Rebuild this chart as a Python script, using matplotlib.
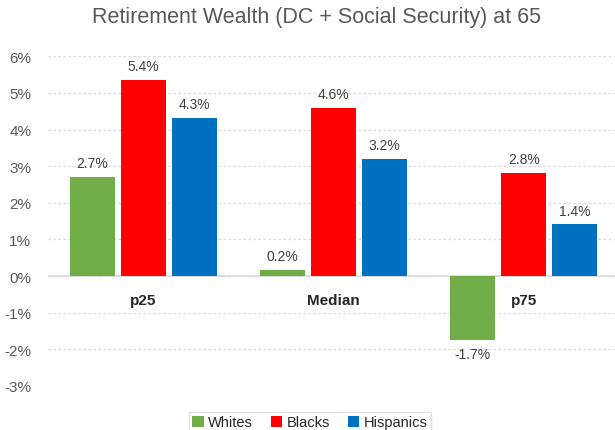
import matplotlib
matplotlib.use("Agg")
import matplotlib.pyplot as plt
import numpy as np

plt.rcParams["font.family"] = ["Liberation Sans", "DejaVu Sans"]

# data (percent)
categories = ["p25", "Median", "p75"]
series = ["Whites", "Blacks", "Hispanics"]
whites = [2.70, 0.16, -1.74]
blacks = [5.36, 4.58, 2.81]
hispanics = [4.32, 3.21, 1.41]
colors = ["#70AD47", "#FF0000", "#0070C0"]
yticks = [-3, -2, -1, 0, 1, 2, 3, 4, 5, 6]

fig = plt.figure(figsize=(6.15, 4.31), dpi=100)
ax = fig.add_axes([48 / 615, 1 - 387 / 431, 1 - 48 / 615, (387 - 57.3) / 431])

x = np.arange(len(categories))
width = 0.237
step = 0.268
for i, (name, vals, c) in enumerate(zip(series, [whites, blacks, hispanics], colors)):
    bars = ax.bar(x + (i - 1) * step, vals, width, color=c, label=name, zorder=3)
    for b, v in zip(bars, vals):
        if v >= 0:
            ax.annotate(f"{v:.1f}%", (b.get_x() + b.get_width() / 2, v),
                        xytext=(0, 5), textcoords="offset points",
                        ha="center", va="bottom", fontsize=10, color="#404040")
        else:
            ax.annotate(f"{v:.1f}%", (b.get_x() + b.get_width() / 2, v),
                        xytext=(0, -5), textcoords="offset points",
                        ha="center", va="top", fontsize=10, color="#404040")

ax.set_xlim(-0.5, 2.48)
ax.set_ylim(-3, 6)
ax.spines["bottom"].set_position(("data", 0))
ax.spines["bottom"].set_visible(False)
for s in ["top", "right", "left"]:
    ax.spines[s].set_visible(False)

ax.set_yticks(yticks)
ax.set_yticklabels([f"{t}%" for t in yticks], fontsize=11, color="#595959")
ax.yaxis.grid(True, linestyle=(0, (2, 2)), color="#D9D9D9", linewidth=0.9, zorder=0)
ax.axhline(0, color="#D9D9D9", linewidth=1.2, zorder=2)

ax.set_xticks(x)
ax.set_xticklabels(categories, fontsize=11, fontweight="bold", color="#262626")
ax.tick_params(axis="both", length=0)
ax.tick_params(axis="x", pad=12)
ax.tick_params(axis="y", pad=12)

fig.text(0.515, 1 - 18 / 431, "Retirement Wealth (DC + Social Security) at 65",
         ha="center", va="center", fontsize=15.5, color="#595959")

leg = fig.legend(loc="upper center", bbox_to_anchor=(310 / 615, 1 - 406 / 431),
                 ncol=3, fontsize=10.5, frameon=True, fancybox=False,
                 handlelength=0.8, handleheight=0.8, handletextpad=0.3,
                 columnspacing=1.2, borderpad=0.2)
leg.get_frame().set_edgecolor("#D9D9D9")
for t in leg.get_texts():
    t.set_color("#262626")

fig.savefig("out.png", dpi=100, facecolor="white")
